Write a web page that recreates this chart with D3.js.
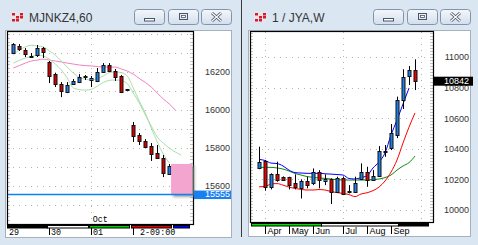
<!DOCTYPE html>
<html>
<head>
<meta charset="utf-8">
<script src="https://cdn.jsdelivr.net/npm/d3@7"></script>
<style>
body { margin: 0; background: #dbe6f3; }
svg { display: block; }
.title { font-family: "Liberation Sans", Arial, sans-serif; font-size: 12px; fill: #353535; }
.price { font-family: "Liberation Sans", Arial, sans-serif; font-size: 9px; fill: #333; }
.date { font-family: "Liberation Mono", monospace; font-size: 8.4px; fill: #000; white-space: pre; }
.month { font-family: "Liberation Sans", Arial, sans-serif; font-size: 9px; fill: #000; }
</style>
</head>
<body>
<div id="chart"></div>
<script>
// ---- left window: MJNKZ4, 60 minute bars ----
var hourOpen  = [16300,16337,16316,16287,16289,16326,16253,16189,16137,16095,16137,16147,16174,16158,16153,16200,16237,16205,16179,16105,15921,15868,15837,15811,15774,15747,15663];
var hourHigh  = [16352,16347,16326,16300,16342,16332,16258,16195,16147,16147,16163,16189,16184,16179,16221,16247,16247,16216,16184,16111,15937,15879,15847,15826,15816,15763,15716];
var hourLow   = [16295,16311,16279,16279,16279,16274,16142,16121,16068,16089,16132,16142,16158,16121,16147,16195,16200,16153,16089,16100,15832,15816,15800,15732,15742,15647,15658];
var hourClose = [16347,16321,16295,16287,16326,16305,16179,16137,16100,16132,16153,16174,16179,16168,16200,16237,16205,16174,16095,16111,15863,15837,15805,15768,15747,15668,15705];
var hourFastMA = [16289,16316,16332,16341,16337,16332,16311,16289,16258,16226,16195,16171,16163,16158,16166,16179,16197,16200,16197,16179,16116,16047,15984,15905,15832,15768,15721];
var hourSlowMA = [16247,16261,16274,16282,16289,16284,16268,16242,16211,16168,16116,16108,16105,16109,16126,16145,16156,16158,16155,16139,16089,16037,15974,15916,15858,15826,15800,15779,15763];
var hourLongMA = [16221,16234,16247,16258,16263,16268,16263,16258,16253,16247,16242,16237,16234,16232,16229,16226,16226,16226,16216,16205,16189,16166,16145,16121,16089,16058,16032,16000];
var hourTicks = [16200, 16000, 15800, 15600];
var hourGrid = [16400,16300,16200,16100,16000,15900,15800,15700,15600,15500];
var lastPrice = 15555;
var projBox = [26.3, 29.8, 15555, 15716]; // from bar, to bar, low, high
var dayLabels = ["29", "30", "01", " 2-09:00"];
var dayStarts = [0, 6, 13, 20];
var dayStrip = [[-1.05, 5.6, "#000"], [5.6, 12.5, "#fff"], [12.6, 19.3, "#00d000"], [19.6, 26.3, "#e00000"], [26.6, 29.3, "#0000ff"]];

// ---- right window: 1 / JYA, weekly bars ----
var weekOpen  = [10273,10320,10148,10235,10214,10214,10174,10142,10192,10174,10250,10192,10201,10120,10207,10116,10120,10201,10246,10196,10222,10379,10405,10490,10719,10878,10915];
var weekHigh  = [10414,10327,10240,10316,10220,10218,10233,10201,10218,10272,10261,10233,10207,10218,10218,10163,10218,10305,10283,10261,10418,10425,10562,10741,10920,10941,10985];
var weekLow   = [10267,10126,10135,10185,10190,10135,10135,10076,10142,10163,10142,10163,10039,10113,10098,10109,10113,10196,10152,10196,10218,10348,10392,10470,10660,10817,10784];
var weekClose = [10316,10152,10233,10196,10196,10163,10148,10192,10163,10246,10196,10201,10120,10207,10105,10124,10174,10246,10196,10222,10386,10386,10503,10719,10867,10915,10842];
var weekBlueMA  = [10331,10324,10307,10304,10288,10261,10245,10242,10240,10240,10240,10237,10235,10232,10229,10206,10203,10212,10225,10275,10314,10373,10490,10588,10693,10797];
var weekRedMA   = [10152,10154,10170,10173,10163,10150,10141,10135,10131,10131,10134,10131,10121,10114,10109,10101,10088,10105,10113,10127,10150,10190,10248,10327,10438,10542,10634];
var weekGreenMA = [10279,10279,10279,10275,10268,10255,10239,10229,10219,10214,10209,10207,10203,10198,10196,10196,10196,10196,10196,10199,10203,10212,10229,10261,10288,10310,10353];
var weekTicks = [11000, 10800, 10600, 10400, 10200, 10000];
var weekVGrid = [1, 14, 27];
var monthLabels = ["Apr", "May", "Jun", "Jul", "Aug", "Sep"];
var monthStarts = [1, 5, 9, 14, 18, 22];
var monthStrip = [[-1.33, 10.33, "#00e000"], [10.33, 23.17, "#fff"], [23.17, 28.17, "#000"]];

var svg = d3.select("#chart")
    .append("svg")
    .attr("width", 478)
    .attr("height", 245);

var defs = svg.append("defs");
var btnGrad = defs.append("linearGradient").attr("id", "btn").attr("x1", 0).attr("y1", 0).attr("x2", 0).attr("y2", 1);
btnGrad.append("stop").attr("offset", "0%").attr("stop-color", "#f3f7fc");
btnGrad.append("stop").attr("offset", "100%").attr("stop-color", "#d3deeb");
defs.append("filter").attr("id", "blur").append("feGaussianBlur").attr("stdDeviation", 1.5);

svg.append("rect").attr("width", 478).attr("height", 245).attr("fill", "#dbe6f3");

// splitter between the two windows
svg.append("line")
    .attr("x1", 241.5).attr("x2", 241.5).attr("y1", 0).attr("y2", 237)
    .attr("stroke", "#3a3a3a");

//WINDOW FRAME
function windowFrame(left, right, title, panelBottom) {
  // icon
  var ic = svg.append("g").attr("transform", "translate(" + (left + 3) + ",12)");
  ic.append("rect").attr("width", 13).attr("height", 10).attr("fill", "#e6e6ea");
  var cells = [[0,0],[2,0],[1,1],[2,1],[0,2],[1,2]];
  cells.forEach(function (c) {
    ic.append("rect").attr("x", c[0] * 4 + 1).attr("y", c[1] * 3 + 1)
      .attr("width", 3).attr("height", 2.5).attr("fill", "#d41c2c");
  });
  svg.append("text").attr("class", "title")
      .attr("x", left + 21).attr("y", 22)
      .text(title);

  var bx = [right - 98, right - 64, right - 31];
  bx.forEach(function (x) {
    svg.append("rect")
        .attr("x", x + 0.5).attr("y", 9.5).attr("width", 30).attr("height", 15)
        .attr("rx", 3).attr("fill", "url(#btn)").attr("stroke", "#8393aa");
  });
  // minimize
  svg.append("rect").attr("x", bx[0] + 10.5).attr("y", 18.5).attr("width", 10).attr("height", 2.5)
      .attr("fill", "#fff").attr("stroke", "#4a5568");
  // maximize
  svg.append("rect").attr("x", bx[1] + 11.5).attr("y", 13.5).attr("width", 8).attr("height", 6)
      .attr("fill", "none").attr("stroke", "#4a5568").attr("stroke-width", 1);
  svg.append("rect").attr("x", bx[1] + 13.5).attr("y", 15.5).attr("width", 4).attr("height", 2)
      .attr("fill", "#fff").attr("stroke", "#4a5568").attr("stroke-width", 0.8);
  // close
  [[3, "#4a5568"], [1.2, "#fff"]].forEach(function (s) {
    svg.append("path")
        .attr("d", "M" + (bx[2] + 11) + ",13 L" + (bx[2] + 20) + ",21 M" + (bx[2] + 20) + ",13 L" + (bx[2] + 11) + ",21")
        .attr("stroke", s[1]).attr("stroke-width", s[0]).attr("fill", "none");
  });

  // client area
  svg.append("rect")
      .attr("x", left - 2.5).attr("y", 30.5)
      .attr("width", right - left + 2).attr("height", panelBottom - 30)
      .attr("fill", "#fff").attr("stroke", "#a7b0bd");
}

windowFrame(8, 232, "MJNKZ4,60", 237);
windowFrame(251, 471, "1 / JYA,W", 236);

//CHART PANEL
function chartPanel(opt) {
  var g = svg.append("g");
  var x = d3.scaleLinear().domain([0, 26]).range(opt.xr);
  var y = d3.scaleLinear().domain(opt.yd).range([opt.bottom, 31]);
  var left = opt.left, right = opt.right;

  // dotted grid
  g.selectAll(".hgrid").data(opt.hgrid).enter().append("line")
      .attr("x1", left).attr("x2", right)
      .attr("y1", function (d) { return Math.round(y(d)) + 0.5; })
      .attr("y2", function (d) { return Math.round(y(d)) + 0.5; })
      .attr("stroke", "#b4b4b4").attr("stroke-dasharray", "1,5");
  g.selectAll(".vgrid").data(opt.vgrid).enter().append("line")
      .attr("x1", function (d) { return Math.round(x(d)) + 0.5; })
      .attr("x2", function (d) { return Math.round(x(d)) + 0.5; })
      .attr("y1", 32).attr("y2", opt.bottom)
      .attr("stroke", "#b4b4b4").attr("stroke-dasharray", "1,5");

  // minor ticks along the inner edges
  var minor = d3.range(Math.ceil(opt.yd[0] / 20) * 20, opt.yd[1], 20);
  g.selectAll(".mt").data(minor).enter().append("path")
      .attr("d", function (d) {
        var yy = Math.round(y(d)) + 0.5;
        return "M" + left + "," + yy + "h3M" + (right - 3) + "," + yy + "h3";
      })
      .attr("stroke", "#c4c4c4");

  // moving averages
  opt.lines.forEach(function (ln) {
    g.append("path")
        .datum(ln.values)
        .attr("fill", "none")
        .attr("stroke", ln.color)
        .attr("stroke-width", 1)
        .attr("d", d3.line()
            .x(function (d, i) { return x(i); })
            .y(function (d) { return y(d); })
            .curve(d3.curveMonotoneX));
  });

  // candles
  opt.open.forEach(function (o, i) {
    var c = opt.close[i];
    var cx = Math.round(x(i)) + 0.5;
    var col = c > o ? opt.up : (c < o ? opt.down : "#000");
    g.append("line")
        .attr("x1", cx).attr("x2", cx)
        .attr("y1", y(opt.high[i])).attr("y2", y(opt.low[i]))
        .attr("stroke", "#000");
    var top = Math.round(y(Math.max(o, c))), bot = Math.round(y(Math.min(o, c)));
    g.append("rect")
        .attr("x", cx - 1.5).attr("y", top + 0.5)
        .attr("width", 3).attr("height", Math.max(bot - top, 1))
        .attr("fill", col).attr("stroke", "#111").attr("stroke-width", 1);
  });

  // date strip under the box
  opt.strip.forEach(function (s) {
    g.append("rect")
        .attr("x", Math.round(x(s[0])) + 0.5).attr("y", opt.bottom + 1.5)
        .attr("width", Math.round(x(s[1]) - x(s[0]))).attr("height", 2.5)
        .attr("fill", s[2]).attr("stroke", "#000").attr("stroke-width", 1);
  });

  // box
  g.append("rect")
      .attr("x", left + 0.5).attr("y", 31.5)
      .attr("width", right - left).attr("height", opt.bottom - 31)
      .attr("fill", "none").attr("stroke", "#000").attr("stroke-width", 1.2);

  // price axis
  var ax = g.append("g")
      .attr("transform", "translate(" + opt.labelX + ",0)")
      .call(d3.axisRight(y).tickValues(opt.ticks).tickFormat(d3.format("d")).tickSize(0).tickPadding(0));
  ax.select(".domain").remove();
  ax.attr("font-family", null).attr("font-size", null);
  ax.selectAll("text")
      .attr("class", "price")
      .attr("text-anchor", "end")
      .attr("x", 0);

  return { x: x, y: y, g: g };
}

var L = chartPanel({
  left: 7, right: 193, bottom: 224, xr: [13.3, 169.3], yd: [15400, 16416],
  hgrid: hourGrid, vgrid: [13], ticks: hourTicks, labelX: 230,
  open: hourOpen, high: hourHigh, low: hourLow, close: hourClose,
  up: "#1f7fe8", down: "#d40000", strip: dayStrip,
  lines: [
    { values: hourLongMA, color: "#f27fc0" },
    { values: hourSlowMA, color: "#acdcac" },
    { values: hourFastMA, color: "#acdcac" }
  ]
});

// projection box with shadow
L.g.append("rect")
    .attr("x", L.x(projBox[0]) + 2).attr("y", L.y(projBox[3]) + 2)
    .attr("width", L.x(projBox[1]) - L.x(projBox[0])).attr("height", L.y(projBox[2]) - L.y(projBox[3]))
    .attr("fill", "#8a8a8a").attr("filter", "url(#blur)");
L.g.append("rect")
    .attr("x", L.x(projBox[0])).attr("y", L.y(projBox[3]))
    .attr("width", L.x(projBox[1]) - L.x(projBox[0])).attr("height", L.y(projBox[2]) - L.y(projBox[3]))
    .attr("fill", "#f3a4cf");

// last price line and label
L.g.append("line")
    .attr("x1", 8).attr("x2", 193)
    .attr("y1", L.y(lastPrice)).attr("y2", L.y(lastPrice))
    .attr("stroke", "#0a84f0").attr("stroke-width", 1.5);
L.g.append("rect")
    .attr("x", 194).attr("y", L.y(lastPrice) - 4)
    .attr("width", 37).attr("height", 8.5)
    .attr("fill", "#1a80f0");
L.g.append("text")
    .attr("class", "price")
    .attr("x", 230).attr("y", L.y(lastPrice))
    .attr("dy", "0.32em")
    .attr("text-anchor", "end")
    .style("fill", "#fff")
    .text(lastPrice);

// day labels
dayLabels.forEach(function (t, k) {
  var xi = Math.round(L.x(dayStarts[k])) + 0.5;
  if (k > 0) {
    L.g.append("line").attr("x1", xi).attr("x2", xi).attr("y1", 228).attr("y2", 235).attr("stroke", "#000");
  }
  L.g.append("text").attr("class", "date")
      .attr("x", k > 0 ? xi + 1.5 : 9).attr("y", 234.5)
      .text(t);
});
L.g.append("text").attr("class", "date")
    .attr("x", L.x(dayStarts[2]) + 1.5).attr("y", 222)
    .text("Oct");

var R = chartPanel({
  left: 250, right: 433, bottom: 222, xr: [259, 415], yd: [9922, 11170],
  hgrid: weekTicks, vgrid: weekVGrid, ticks: weekTicks, labelX: 469,
  open: weekOpen, high: weekHigh, low: weekLow, close: weekClose,
  up: "#1f7fe8", down: "#e80000", strip: monthStrip,
  lines: [
    { values: weekGreenMA, color: "#108a10" },
    { values: weekRedMA, color: "#ff0000" },
    { values: weekBlueMA, color: "#0000ff" }
  ]
});

// last close label
var lastWeek = weekClose[weekClose.length - 1];
R.g.append("rect")
    .attr("x", 433).attr("y", R.y(lastWeek) - 4.5)
    .attr("width", 40).attr("height", 9)
    .attr("fill", "#000");
R.g.append("text")
    .attr("class", "price")
    .attr("x", 469).attr("y", R.y(lastWeek))
    .attr("dy", "0.32em")
    .attr("text-anchor", "end")
    .style("fill", "#fff")
    .text(lastWeek);

// month labels
monthLabels.forEach(function (t, k) {
  var xi = Math.round(R.x(monthStarts[k])) + 0.5;
  R.g.append("line").attr("x1", xi).attr("x2", xi).attr("y1", 226).attr("y2", 234).attr("stroke", "#000");
  R.g.append("text").attr("class", "month")
      .attr("x", xi + 2).attr("y", 233.5)
      .text(t);
});
</script>
</body>
</html>
